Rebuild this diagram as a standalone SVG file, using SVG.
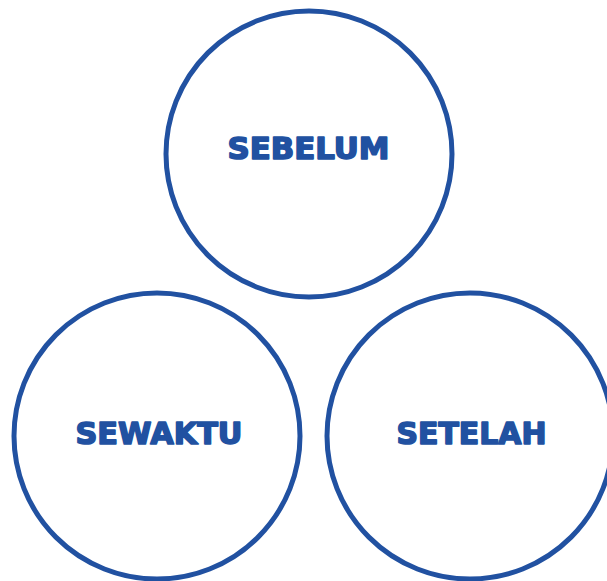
<svg xmlns="http://www.w3.org/2000/svg" width="607" height="581" viewBox="0 0 607 581">
<style>
.c{fill:none;stroke:#2151a1;stroke-width:5}
.t{font-family:"DejaVu Sans",sans-serif;font-weight:bold;font-size:30px;fill:#2151a1;stroke:#2151a1;stroke-width:1.6;stroke-linejoin:round;text-anchor:middle}
</style>
<rect width="607" height="581" fill="#ffffff"/>
<g id="sebelum">
<circle class="c" cx="309" cy="154" r="143"/>
<text class="t" x="308.5" y="159" textLength="162" lengthAdjust="spacingAndGlyphs">SEBELUM</text>
</g>
<g id="sewaktu">
<circle class="c" cx="157" cy="436" r="143"/>
<text class="t" x="159" y="444" textLength="167" lengthAdjust="spacingAndGlyphs">SEWAKTU</text>
</g>
<g id="setelah">
<circle class="c" cx="470" cy="436" r="143"/>
<text class="t" x="471.5" y="444" textLength="150" lengthAdjust="spacingAndGlyphs">SETELAH</text>
</g>
<g id="connectors"></g>
</svg>
